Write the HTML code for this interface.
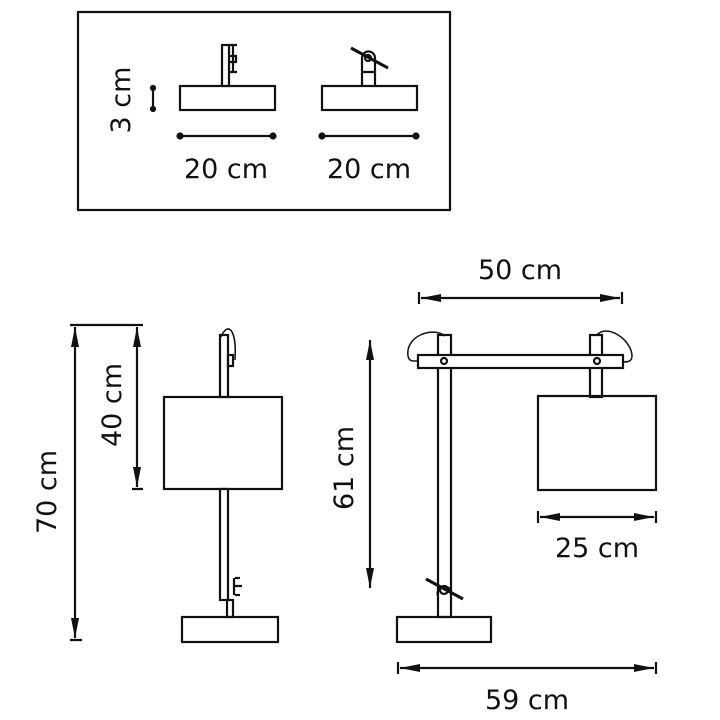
<!DOCTYPE html>
<html><head><style>body{margin:0;background:#fff}svg{display:block}text{font-family:"DejaVu Sans","Liberation Sans",sans-serif;font-size:27px;fill:#111}</style></head>
<body>
<svg width="720" height="720" viewBox="0 0 720 720" xmlns="http://www.w3.org/2000/svg">
<g fill="none" stroke="#111" stroke-width="2.2">
<rect x="78" y="12" width="372" height="198"/>
<rect x="180" y="86" width="95" height="24"/>
<rect x="222" y="45" width="7" height="41"/>
<path d="M230,45h7M233,45v27M230,72h7M229,56h7v6h-7"/>
<circle cx="153" cy="88" r="2" fill="#111"/><circle cx="153" cy="109" r="2" fill="#111"/><path d="M153,88v21"/>
<path d="M180,136h93M322,136h94"/>
<circle cx="180" cy="136" r="2.5" fill="#111"/><circle cx="273" cy="136" r="2.5" fill="#111"/>
<circle cx="322" cy="136" r="2.5" fill="#111"/><circle cx="416" cy="136" r="2.5" fill="#111"/>
<rect x="322" y="86" width="95" height="24"/>
<path d="M362,86v-24M375,86v-24M362,72h13M362,58a6.5,6.5 0 0 1 13,0v4M362,58v4"/>
<path d="M351,48L388,68" stroke-width="3"/>
<circle cx="368" cy="58" r="3"/>

<!-- left lamp dims -->
<path d="M70,325h73M70,640h12M132,489h11"/>
<path d="M75,327v311M137,327v160"/>
<rect x="220" y="335" width="8" height="62"/>
<rect x="220" y="489" width="8" height="111"/>
<rect x="227" y="600" width="6" height="17"/>
<path d="M221,337c6,-15 16,-10 14,23" stroke-width="1.5"/>
<rect x="228" y="355" width="5" height="11"/>
<rect x="164" y="397" width="118" height="92"/>
<rect x="182" y="617" width="96" height="25"/>
<path d="M234,578v17M235,578h5M235,595h5M233,586h9"/>

<!-- right lamp -->
<path d="M419,292v12M622,292v12M398,662v12M656,662v12M538,511v12M656,511v12"/>
<path d="M421,298h199M400,668h254M540,517h114"/>
<path d="M370,340v248"/>
<rect x="438" y="335" width="13" height="282"/>
<rect x="590" y="335" width="12" height="62"/>
<path d="M445,336c-12,-10 -40,0 -37,20c1,6 6,5 10,5" stroke-width="1.5"/>
<path d="M596,336c10,-14 36,4 36,20c0,6 -5,6 -10,6" stroke-width="1.5"/>
<rect x="418" y="355" width="205" height="13" fill="#fff"/>
<circle cx="444" cy="361" r="3"/><circle cx="597" cy="361" r="3"/>
<rect x="538" y="396" width="118" height="94"/>
<rect x="397" y="617" width="94" height="25"/>
<path d="M426,579L463,599" stroke-width="3"/>
<circle cx="444" cy="590" r="4"/>
<path d="M438,596a6,6 0 0 1 13,-5"/>
</g>
<g fill="#111">
<polygon points="75,327 71,347 79,347"/><polygon points="75,638 71,618 79,618"/>
<polygon points="137,327 133,347 141,347"/><polygon points="137,487 133,467 141,467"/>
<polygon points="370,340 366,360 374,360"/><polygon points="370,588 366,568 374,568"/>
<polygon points="421,298 441,294 441,302"/><polygon points="620,298 600,294 600,302"/>
<polygon points="400,668 420,664 420,672"/><polygon points="654,668 634,664 634,672"/>
<polygon points="540,517 560,513 560,521"/><polygon points="654,517 634,513 634,521"/>
</g>
<text x="226" y="178" text-anchor="middle">20 cm</text>
<text x="369" y="178" text-anchor="middle">20 cm</text>
<text transform="translate(130,100) rotate(-90)" text-anchor="middle">3 cm</text>
<text transform="translate(56,492) rotate(-90)" text-anchor="middle">70 cm</text>
<text transform="translate(121,405) rotate(-90)" text-anchor="middle">40 cm</text>
<text transform="translate(353,468) rotate(-90)" text-anchor="middle">61 cm</text>
<text x="520" y="279" text-anchor="middle">50 cm</text>
<text x="597" y="557" text-anchor="middle">25 cm</text>
<text x="527" y="709" text-anchor="middle">59 cm</text>
</svg>
</body></html>
